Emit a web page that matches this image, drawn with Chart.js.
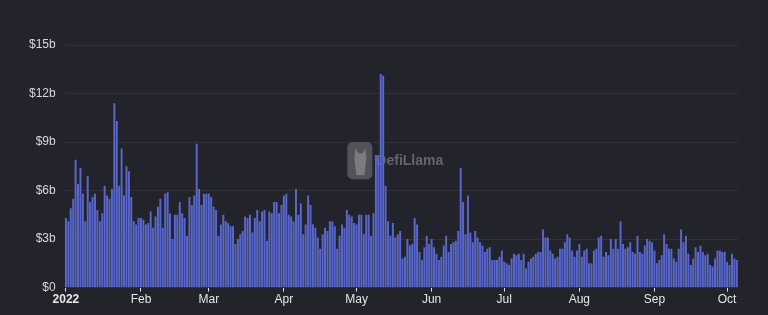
<!DOCTYPE html>
<html>
<head>
<meta charset="utf-8">
<script src="https://cdn.jsdelivr.net/npm/chart.js@4/dist/chart.umd.min.js"></script>
<style>
  html, body { margin: 0; padding: 0; background: #22232b; }
  #wrap { width: 768px; height: 315px; }
</style>
</head>
<body>
<div id="wrap"><canvas id="volumeChart"></canvas></div>
<script>
// daily volume, in billions of USD, one array per month of 2022
const jan = [4.3, 4.1, 4.9, 5.5, 7.9, 6.4, 7.4, 5.8, 4.1, 6.9, 5.3, 5.6, 5.8, 4.8, 4.1, 4.6, 6.3, 5.7, 5.5, 6.1, 11.4, 10.3, 6.3, 8.6, 5.7, 7.5, 7.2, 5.6, 4.1, 3.9, 4.3];
const feb = [4.3, 4.2, 3.9, 4.0, 4.7, 3.7, 4.4, 5.0, 5.5, 3.7, 5.8, 5.9, 4.6, 3.0, 4.5, 4.5, 5.3, 4.6, 4.3, 3.2, 5.6, 5.1, 5.7, 8.9, 6.1, 5.1, 5.8, 5.8];
const mar = [5.8, 5.6, 5.0, 4.8, 3.2, 3.9, 4.5, 4.1, 4.0, 3.8, 3.8, 2.7, 3.0, 3.3, 3.5, 4.4, 4.3, 4.5, 3.4, 4.3, 4.8, 4.1, 4.7, 4.8, 2.9, 4.7, 4.6, 5.3, 5.3, 4.6, 5.1];
const apr = [5.7, 5.8, 4.5, 4.4, 4.1, 6.1, 4.5, 5.2, 3.3, 3.9, 5.7, 5.1, 3.9, 3.7, 3.1, 2.4, 3.3, 3.7, 3.5, 4.1, 4.1, 3.8, 2.4, 3.2, 3.9, 3.7, 4.8, 4.5, 4.4, 4.0];
const may = [3.9, 4.5, 4.5, 3.3, 4.5, 4.5, 3.2, 4.6, 8.2, 8.0, 13.2, 13.1, 6.3, 4.1, 3.2, 4.0, 3.1, 3.3, 3.5, 1.8, 1.9, 3.0, 2.6, 2.7, 4.3, 3.9, 2.2, 1.7, 2.5, 3.2, 2.7];
const jun = [3.0, 2.5, 2.1, 1.7, 1.9, 2.6, 3.2, 2.2, 2.7, 2.8, 2.9, 3.5, 7.4, 5.3, 3.3, 5.7, 3.4, 2.8, 3.5, 3.1, 2.8, 2.6, 2.2, 2.4, 2.5, 1.7, 1.7, 1.7, 1.9, 2.3];
const jul = [1.6, 1.5, 1.4, 1.8, 2.1, 2.0, 2.1, 1.7, 2.1, 1.2, 1.6, 1.8, 1.9, 2.1, 2.2, 2.2, 3.6, 3.1, 3.1, 2.3, 2.1, 1.8, 1.9, 2.4, 2.4, 2.8, 3.3, 3.1, 2.3, 1.9, 2.3];
const aug = [2.7, 1.9, 2.3, 2.4, 1.5, 1.5, 2.3, 2.4, 3.1, 3.2, 1.9, 2.2, 2.0, 3.0, 2.4, 3.0, 2.4, 4.1, 2.7, 2.4, 2.5, 2.8, 2.2, 2.1, 3.2, 2.2, 2.1, 2.6, 3.0, 2.9, 2.8];
const sep = [2.3, 1.5, 1.7, 2.0, 3.3, 2.7, 2.4, 2.4, 1.8, 1.6, 2.4, 3.6, 2.8, 3.2, 2.1, 1.4, 1.8, 2.5, 2.2, 2.6, 2.2, 2.0, 2.1, 1.4, 1.3, 1.8, 2.3, 2.3, 2.2, 2.2];
const oct = [1.6, 1.4, 2.1, 1.8, 1.7];

const months = [jan, feb, mar, apr, may, jun, jul, aug, sep, oct];
const monthTicks = ['2022', 'Feb', 'Mar', 'Apr', 'May', 'Jun', 'Jul', 'Aug', 'Sep', 'Oct'];

// one label per day, tick text only on the 1st of each month
const labels = [];
const tickText = [];
const volume = [];
months.forEach(function (m, mi) {
    m.forEach(function (v, di) {
        labels.push('2022-' + (mi + 1) + '-' + (di + 1));
        tickText.push(di === 0 ? monthTicks[mi] : null);
        volume.push(v);
    });
});

// faint logo + name in the middle of the plot
const watermark = {
    id: 'watermark',
    beforeDatasetsDraw(chart) {
        const ctx = chart.ctx;
        const a = chart.chartArea;
        const cx = (a.left + a.right) / 2;
        const cy = (a.top + a.bottom) / 2;
        const x = cx - 54, y = cy - 24;
        ctx.save();
        ctx.fillStyle = 'rgba(130,130,135,0.5)';
        ctx.beginPath();
        ctx.roundRect(x, y, 25, 37, 5);
        ctx.fill();
        // rough llama head
        ctx.fillStyle = 'rgba(175,175,180,0.45)';
        ctx.beginPath();
        ctx.moveTo(x + 8, y + 6);
        ctx.lineTo(x + 11, y + 11);
        ctx.lineTo(x + 15, y + 11);
        ctx.lineTo(x + 18, y + 6);
        ctx.lineTo(x + 19, y + 16);
        ctx.lineTo(x + 17, y + 33);
        ctx.lineTo(x + 9, y + 33);
        ctx.lineTo(x + 7, y + 16);
        ctx.closePath();
        ctx.fill();
        ctx.fillStyle = 'rgba(145,145,150,0.6)';
        ctx.font = 'bold 14px "Liberation Sans", Arial, sans-serif';
        ctx.textBaseline = 'middle';
        ctx.fillText('DefiLlama', x + 29, y + 19);
        ctx.restore();
    }
};

const ctx = document.getElementById('volumeChart').getContext('2d');
new Chart(ctx, {
    type: 'bar',
    data: {
        labels: labels,
        datasets: [{
            data: volume,
            backgroundColor: '#5967cb',
            borderWidth: 0,
            categoryPercentage: 1,
            barPercentage: 0.82
        }]
    },
    options: {
        responsive: true,
        maintainAspectRatio: false,
        animation: false,
        layout: { padding: { top: 45, right: 30, left: 20, bottom: 7 } },
        plugins: {
            legend: { display: false },
            tooltip: { enabled: false }
        },
        scales: {
            x: {
                border: { display: false },
                grid: {
                    offset: false,
                    drawOnChartArea: false,
                    drawTicks: true,
                    tickLength: 4,
                    tickColor: '#e0e0e0'
                },
                ticks: {
                    autoSkip: false,
                    maxRotation: 0,
                    padding: 1,
                    color: '#e6e6e6',
                    font: function (c) {
                        const bold = c.tick && c.tick.label === '2022';
                        return { family: '"Liberation Sans", Arial, sans-serif', size: 12, weight: bold ? 'bold' : 'normal' };
                    },
                    callback: function (value, index) {
                        return tickText[index];
                    }
                }
            },
            y: {
                min: 0,
                max: 15,
                border: { display: false },
                grid: {
                    color: 'rgba(255,255,255,0.07)',
                    drawTicks: false
                },
                ticks: {
                    stepSize: 3,
                    padding: 9,
                    color: '#d8d8d8',
                    font: { family: '"Liberation Sans", Arial, sans-serif', size: 12 },
                    callback: function (v) {
                        return v === 0 ? '$0' : '$' + v + 'b';
                    }
                }
            }
        }
    },
    plugins: [watermark]
});
</script>
</body>
</html>
